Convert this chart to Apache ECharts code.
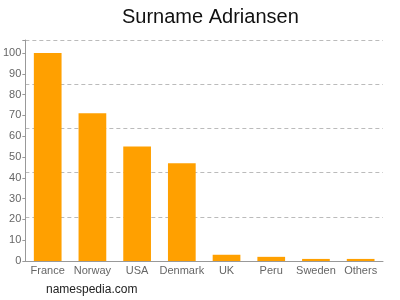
<!DOCTYPE html>
<html><head><meta charset="utf-8">
<script src="https://cdn.jsdelivr.net/npm/echarts@6/dist/echarts.min.js"></script>
<style>html,body{margin:0;padding:0;background:#fff}#c{width:400px;height:300px}</style>
</head><body><div id="c"></div>
<script>
const categories = ["France","Norway","USA","Denmark","UK","Peru","Sweden","Others"];
const values = [100,71,55,47,3,2,1,1];
const yTicks = [0,10,20,30,40,50,60,70,80,90,100];
const axisMax = 106.25;
const gridStep = 21.25;

const chart = echarts.init(document.getElementById('c'));
chart.setOption({
  animation:false,
  title:{text:"Surname Adriansen",left:117,top:2,textStyle:{fontFamily:'Liberation Sans, Arial',fontSize:20,fontWeight:'normal',color:'#111'}},
  graphic:[{type:'text',left:46,top:284,style:{text:'namespedia.com',font:'12px "Liberation Sans", Arial',fill:'#222'}}],
  grid:{left:24,right:17,top:40,bottom:39},
  xAxis:{type:'category',data:categories,
    axisLine:{lineStyle:{color:'#999'}},
    axisTick:{alignWithLabel:true,length:3,lineStyle:{color:'#999'}},
    axisLabel:{color:'#666',fontSize:11,fontFamily:'Liberation Sans, Arial',margin:4,interval:0}},
  yAxis:[{type:'value',min:0,max:axisMax,interval:10,
    axisLine:{show:true,lineStyle:{color:'#999'}},
    axisTick:{show:true,length:3,lineStyle:{color:'#999'}},
    axisLabel:{color:'#666',fontSize:11,fontFamily:'Liberation Sans, Arial',margin:4,
      formatter:v=>yTicks.includes(v)?String(v):''},
    splitLine:{show:false}},
   {type:'value',min:0,max:axisMax,interval:gridStep,position:'left',
    axisLine:{show:false},axisTick:{show:false},axisLabel:{show:false},
    splitLine:{show:true,lineStyle:{color:'#bbb',type:[4,3],width:1}}}],
  series:[{type:'bar',data:values,barWidth:'62%',itemStyle:{color:'#FFA000'},yAxisIndex:0}]
});
</script></body></html>
